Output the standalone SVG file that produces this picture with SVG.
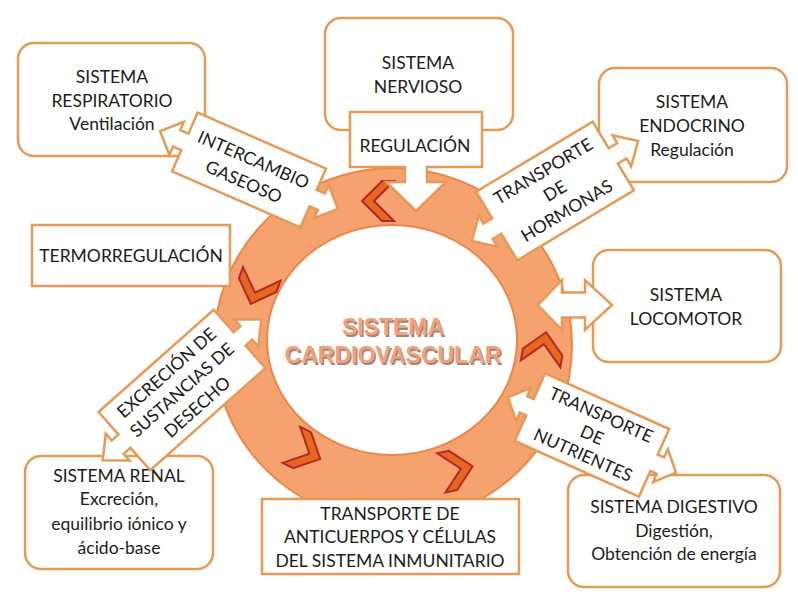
<svg xmlns="http://www.w3.org/2000/svg" width="798" height="599" viewBox="0 0 798 599">
<style>
.box{fill:#fff;stroke:#E49A58;stroke-width:2.5}
.call{fill:#fff;stroke:#E49A58;stroke-width:2.5;stroke-linejoin:miter}
.t{font-family:Lato,"Liberation Sans",sans-serif;font-size:17.5px;fill:#1c1c1c;text-anchor:middle}
.chev{fill:#E2691E;stroke:#B8252A;stroke-width:2;stroke-linejoin:miter}
.big{font-family:"Liberation Sans",Arial,sans-serif;font-weight:bold;font-size:23px;text-anchor:middle}
</style>
<defs>
<polygon id="chevron" points="-14,-20 -2,-20 18,0 -2,20 -14,20 6,0"/>
</defs>
<rect width="798" height="599" fill="#fff"/>

<g id="ring">
<ellipse cx="393" cy="345" rx="179" ry="177" fill="#F5A26E" stroke="#E8874A" stroke-width="2"/>
<ellipse cx="392" cy="340" rx="125" ry="115" fill="#fff" stroke="#E8874A" stroke-width="2"/>
<g class="chev">
<use href="#chevron" transform="translate(380,201) rotate(180)"/>
<use href="#chevron" transform="translate(257,287) rotate(110)"/>
<use href="#chevron" transform="translate(304,451) rotate(26)"/>
<use href="#chevron" transform="translate(455,470) rotate(-12)"/>
<use href="#chevron" transform="translate(543,350) rotate(-80)"/>
</g>
<text class="big" x="394.5" y="336.5" fill="#A08476">SISTEMA</text>
<text class="big" x="394.5" y="364.5" fill="#A08476">CARDIOVASCULAR</text>
<text class="big" x="393" y="335" fill="#F3A17A">SISTEMA</text>
<text class="big" x="393" y="363" fill="#F3A17A">CARDIOVASCULAR</text>
</g>

<g id="respiratorio">
<rect class="box" x="18" y="43" width="187" height="113" rx="16"/>
<text class="t" x="112" y="83">SISTEMA</text>
<text class="t" x="112" y="107">RESPIRATORIO</text>
<text class="t" x="112" y="130">Ventilación</text>
</g>

<g id="nervioso">
<rect class="box" x="325" y="18" width="188" height="112" rx="16"/>
<text class="t" x="418" y="69">SISTEMA</text>
<text class="t" x="418" y="93">NERVIOSO</text>
</g>

<g id="regulacion">
<polygon class="call" points="350,112 482,112 482,167 427,167 427,182 446,182 416,211 386,182 405,182 405,167 350,167"/>
<text class="t" x="415" y="152">REGULACIÓN</text>
</g>

<g id="endocrino">
<rect class="box" x="599" y="68" width="188" height="114" rx="16"/>
<text class="t" x="692" y="108">SISTEMA</text>
<text class="t" x="692" y="132">ENDOCRINO</text>
<text class="t" x="692" y="156">Regulación</text>
</g>

<g id="locomotor">
<rect class="box" x="593" y="250" width="188" height="112" rx="16"/>
<text class="t" x="686" y="301">SISTEMA</text>
<text class="t" x="686" y="325">LOCOMOTOR</text>
</g>

<g id="termorregulacion">
<rect class="box" x="32" y="225" width="198" height="61"/>
<text class="t" x="131" y="262">TERMORREGULACIÓN</text>
</g>

<g id="renal">
<rect class="box" x="25" y="456" width="188" height="113" rx="16"/>
<text class="t" x="119" y="482">SISTEMA RENAL</text>
<text class="t" x="119" y="505">Excreción,</text>
<text class="t" x="119" y="530">equilibrio iónico y</text>
<text class="t" x="119" y="554">ácido-base</text>
</g>

<g id="digestivo">
<rect class="box" x="568" y="475" width="212" height="112" rx="16"/>
<text class="t" x="674" y="513">SISTEMA DIGESTIVO</text>
<text class="t" x="674" y="537">Digestión,</text>
<text class="t" x="674" y="560">Obtención de energía</text>
</g>

<g id="anticuerpos">
<rect class="box" x="262" y="499" width="257" height="75"/>
<text class="t" x="390" y="520">TRANSPORTE DE</text>
<text class="t" x="390" y="543">ANTICUERPOS Y CÉLULAS</text>
<text class="t" x="390" y="567">DEL SISTEMA INMUNITARIO</text>
</g>

<g id="connectors">
<g id="intercambio" transform="translate(249,170) rotate(23.6)">
<polygon class="call" points="-70,-32 70,-32 70,-9 79,-9 79,-18 97,0 79,18 79,9 70,9 70,32 -70,32 -70,9 -79,9 -79,18 -97,0 -79,-18 -79,-9 -70,-9"/>
<text class="t" x="0" y="-5">INTERCAMBIO</text>
<text class="t" x="0" y="19">GASEOSO</text>
</g>
<g id="hormonas" transform="translate(555,191) rotate(-31)">
<polygon class="call" points="-68,-40 68,-40 68,-9 78,-9 78,-18 97,0 78,18 78,9 68,9 68,40 -68,40 -68,9 -78,9 -78,18 -97,0 -78,-18 -78,-9 -68,-9"/>
<text class="t" x="0" y="-17">TRANSPORTE</text>
<text class="t" x="0" y="6">DE</text>
<text class="t" x="0" y="29">HORMONAS</text>
</g>
<g id="excrecion" transform="translate(182,390) rotate(-41.6)">
<polygon class="call" points="-77,-39 77,-39 77,-9 86,-9 86,-18 106,0 86,18 86,9 77,9 77,39 -77,39 -77,9 -86,9 -86,18 -106,0 -86,-18 -86,-9 -77,-9"/>
<text class="t" x="0" y="-17">EXCRECIÓN DE</text>
<text class="t" x="0" y="6">SUSTANCIAS DE</text>
<text class="t" x="0" y="29">DESECHO</text>
</g>
<g id="nutrientes" transform="translate(592,435) rotate(24.1)">
<polygon class="call" points="-68,-37 68,-37 68,-9 75,-9 75,-18 92,0 75,18 75,9 68,9 68,37 -68,37 -68,9 -75,9 -75,18 -92,0 -75,-18 -75,-9 -68,-9"/>
<text class="t" x="0" y="-16">TRANSPORTE</text>
<text class="t" x="0" y="6">DE</text>
<text class="t" x="0" y="28">NUTRIENTES</text>
</g>
<polygon id="locomotor-arrow" class="call" points="538,305 562,280 562,292.5 585,292.5 585,280 612,305 585,330 585,317.5 562,317.5 562,330"/>
</g>
</svg>
